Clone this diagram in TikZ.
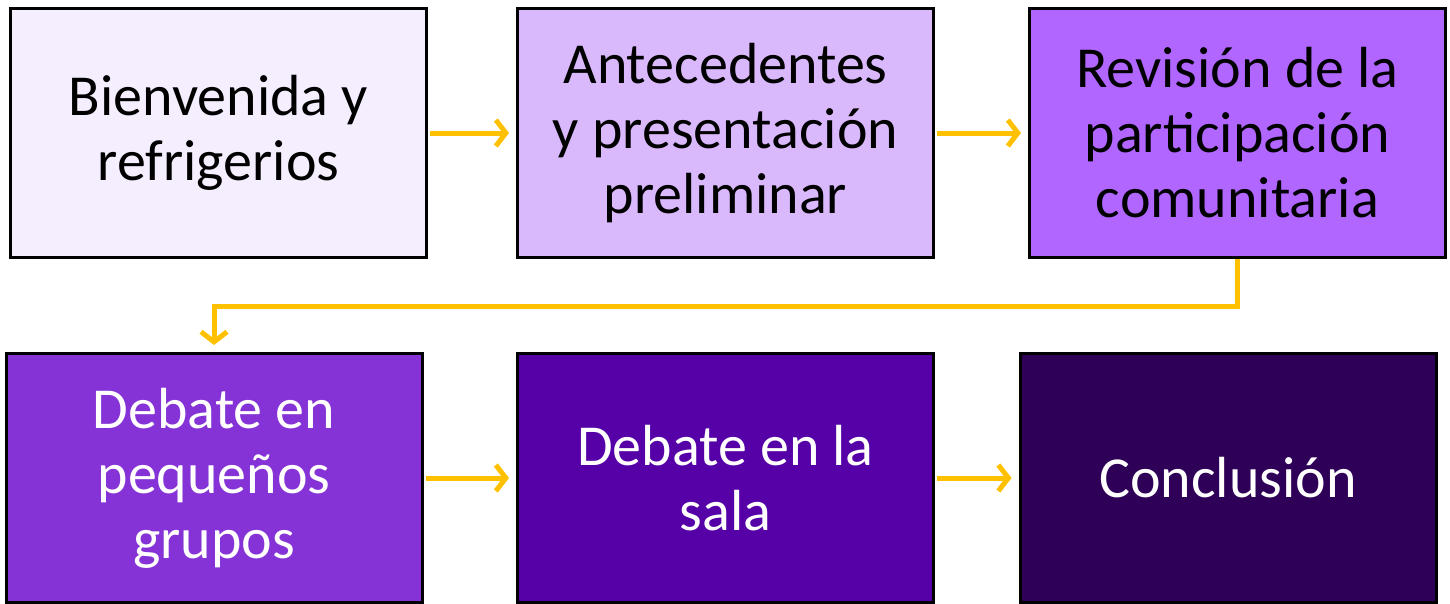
\documentclass[tikz,border=0pt]{standalone}
\usepackage{fontspec}
\setmainfont{Carlito}
\usetikzlibrary{arrows.meta}

\definecolor{paso1}{HTML}{F5EEFE}
\definecolor{paso2}{HTML}{DAB8FC}
\definecolor{paso3}{HTML}{B066FF}
\definecolor{paso4}{HTML}{8533D6}
\definecolor{paso5}{HTML}{5600A8}
\definecolor{paso6}{HTML}{2F0058}
\definecolor{flecha}{HTML}{FFC000}

\begin{document}
\begin{tikzpicture}[x=1pt,y=-1pt]
				\tikzstyle{every node}=[draw=black,line width=3pt,inner sep=0pt,
				minimum width=416pt,minimum height=249pt,align=center,
				font=\fontsize{58}{65}\selectfont]
				\tikzstyle{claro}=[text=black]
				\tikzstyle{oscuro}=[text=white]
				\tikzstyle{conector}=[draw=flecha,line width=5pt,
				-{Straight Barb[length=10pt,width=26pt,line width=5pt]},shorten >=7pt]
				\useasboundingbox (0,0) rectangle (1450,603);
				% fila de arriba
				\node[claro,fill=paso1] (bienvenida) at (218.5,133) {Bienvenida y\\refrigerios};
				\node[claro,fill=paso2] (antecedentes) at (725.5,133) {Antecedentes\\y presentación\\preliminar};
				\node[claro,fill=paso3] (revision) at (1237.5,133) {Revisión de la\\participación\\comunitaria};
				% fila de abajo
				\node[oscuro,fill=paso4] (pequenos) at (214,478) {Debate en\\pequeños\\grupos};
				\node[oscuro,fill=paso5] (sala) at (725.5,478) {Debate en la\\sala};
				\node[oscuro,fill=paso6] (conclusion) at (1228,478) {Conclusión};
				% flechas
				\draw[conector,shorten <=2pt] (bienvenida) -- (antecedentes);
				\draw[conector,shorten <=2pt] (antecedentes) -- (revision);
				\draw[conector] (revision.south) -- ++(0,47) -| (pequenos.north);
				\draw[conector,shorten <=2pt] (pequenos) -- (sala);
				\draw[conector,shorten <=2pt] (sala) -- (conclusion);
\end{tikzpicture}
\end{document}
